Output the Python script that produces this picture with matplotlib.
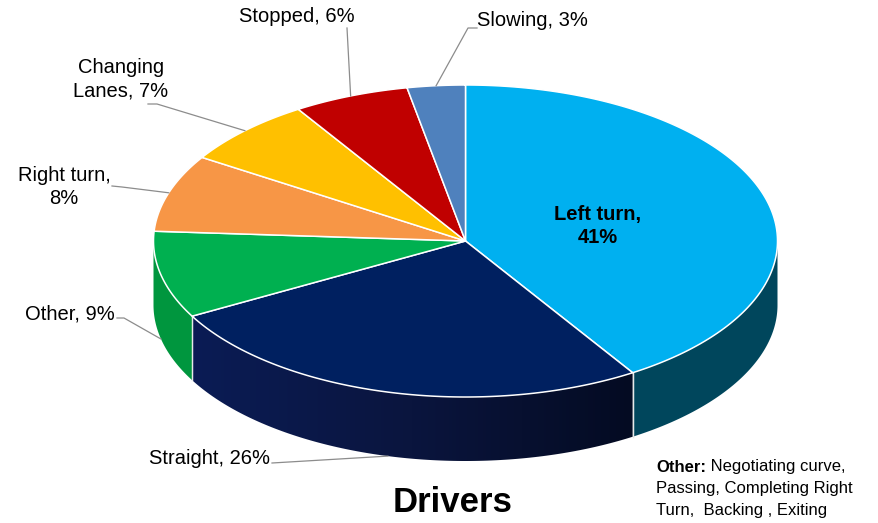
import numpy as np
import matplotlib
matplotlib.use("Agg")
import matplotlib.pyplot as plt
from matplotlib.patches import Polygon
from matplotlib.colors import LinearSegmentedColormap

# ---------------- data ----------------
categories = ['Left turn', 'Straight', 'Other', 'Right turn', 'Changing Lanes', 'Stopped', 'Slowing']
values = [41, 26, 9, 8, 7, 6, 3]
top_colors = ['#00B0F0', '#002060', '#00B050', '#F79646', '#FFC000', '#C00000', '#4F81BD']
side_colors = ['#00465C', '#0A1A4F', '#00963E', '#C06A20', '#C09000', '#800000', '#34567E']
title = 'Drivers'
note_bold = 'Other:'
note_lines = [' Negotiating curve,', 'Passing, Completing Right', 'Turn,  Backing , Exiting']

# ---------------- layout ----------------
W, H = 879, 523
cx, cy, a, b, depth = 465.5, 241.0, 312.0, 156.0, 64.0
start_angle = 90.0
# label layout: text position, alignment, line breaks, leader path start points
label_layout = {
    'Left turn':      dict(xy=(598, 226), ha='center', brk=True, bold=True, lead=None),
    'Straight':       dict(xy=(270, 458), ha='right', brk=False, bold=False, lead=[(272, 463)]),
    'Other':          dict(xy=(115, 314), ha='right', brk=False, bold=False, lead=[(117, 318), (124, 318)]),
    'Right turn':     dict(xy=(64, 187), ha='center', brk=True, bold=False, lead=[(112, 186), (122, 187)]),
    'Changing Lanes': dict(xy=(121, 79), ha='center', brk=True, bold=False, lead=[(148, 104), (157, 104)]),
    'Stopped':        dict(xy=(297, 17), ha='center', brk=False, bold=False, lead=[(347, 28)]),
    'Slowing':        dict(xy=(477, 20), ha='left', brk=False, bold=False, lead=[(477, 28), (468, 28)]),
}

plt.rcParams['font.family'] = ['Liberation Sans', 'DejaVu Sans']
fig = plt.figure(figsize=(W / 100, H / 100), dpi=100)
ax = fig.add_axes([0, 0, 1, 1])
ax.set_xlim(0, W)
ax.set_ylim(H, 0)
ax.axis('off')


def ell(t, dz=0.0):
    return cx + a * np.cos(t), cy - b * np.sin(t) + dz


total = float(sum(values))
bounds = []
cur = start_angle
for v in values:
    t1 = cur
    t2 = cur - v / total * 360.0
    bounds.append((t2, t1))
    cur = t2

# ---- sides (front half only) ----
for i, (t2, t1) in enumerate(bounds):
    for k in (-1, 0, 1):
        lo = max(t2, -180 + 360 * k)
        hi = min(t1, 360 * k)
        if hi <= lo:
            continue
        ts = np.radians(np.linspace(lo, hi, 120))
        xt, yt = ell(ts)
        xb, yb = ell(ts[::-1], depth)
        poly = np.column_stack([np.concatenate([xt, xb]), np.concatenate([yt, yb])])
        if categories[i] == 'Straight':
            patch = Polygon(poly, closed=True, facecolor='none', edgecolor='none', zorder=2)
            ax.add_patch(patch)
            cmap = LinearSegmentedColormap.from_list('g', ['#0B1C55', '#0A153E', '#040B22'])
            grad = np.linspace(0, 1, 256).reshape(1, -1)
            im = ax.imshow(grad, cmap=cmap, aspect='auto',
                           extent=(poly[:, 0].min(), poly[:, 0].max(), poly[:, 1].max(), poly[:, 1].min()),
                           zorder=2)
            im.set_clip_path(patch)
        else:
            ax.add_patch(Polygon(poly, closed=True, facecolor=side_colors[i], edgecolor='none', zorder=2))

# vertical dividers on the side
for (t2, t1) in bounds:
    for t in (t1, t2):
        tt = np.radians(t)
        if np.sin(tt) < -1e-6:
            x0, y0 = ell(tt)
            ax.plot([x0, x0], [y0, y0 + depth], color='#E8E8E8', lw=0.9, zorder=3)

# ---- tops ----
for i, (t2, t1) in enumerate(bounds):
    ts = np.radians(np.linspace(t1, t2, 200))
    xs, ys = ell(ts)
    poly = np.column_stack([np.concatenate([[cx], xs]), np.concatenate([[cy], ys])])
    ax.add_patch(Polygon(poly, closed=True, facecolor=top_colors[i], edgecolor='white',
                         lw=1.1, joinstyle='round', zorder=4))

# ---- labels ----
for i, cat in enumerate(categories):
    L = label_layout[cat]
    if L['brk']:
        if cat == 'Changing Lanes':
            txt = f"Changing\nLanes, {values[i]}%"
        else:
            txt = f"{cat},\n{values[i]}%"
    else:
        txt = f"{cat}, {values[i]}%"
    ax.text(L['xy'][0], L['xy'][1], txt, ha=L['ha'], va='center', multialignment='center',
            fontsize=14.5, fontweight='bold' if L['bold'] else 'normal', color='black',
            linespacing=1.3, zorder=6)
    if L['lead'] is not None:
        t2, t1 = bounds[i]
        tm = np.radians((t1 + t2) / 2)
        ax_, ay_ = ell(tm, depth if np.sin(tm) < 0 else 0.0)
        pts = L['lead'] + [(ax_, ay_)]
        ax.plot([p[0] for p in pts], [p[1] for p in pts], color='#8C8C8C', lw=0.9, zorder=5)

# ---- title ----
ax.text(453, 503, title, ha='center', va='center', fontsize=25, fontweight='bold', zorder=6)

# ---- note ----
fig.canvas.draw()
r = fig.canvas.get_renderer()
nb = ax.text(656, 467, note_bold, ha='left', va='center', fontsize=12, fontweight='bold', zorder=6)
bb = nb.get_window_extent(renderer=r)
inv = ax.transData.inverted()
x_end = inv.transform((bb.x1, bb.y0))[0]
ax.text(x_end, 467, note_lines[0], ha='left', va='center', fontsize=12, zorder=6)
ax.text(656, 489, note_lines[1], ha='left', va='center', fontsize=12, zorder=6)
ax.text(656, 510, note_lines[2], ha='left', va='center', fontsize=12, zorder=6)

fig.savefig('out.png', dpi=100, facecolor='white')
